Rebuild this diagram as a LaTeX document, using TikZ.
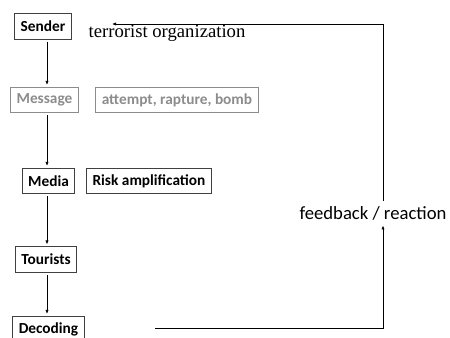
\documentclass[tikz,border=0pt]{standalone}
\usepackage{fontspec}
\setmainfont{Carlito}
\newfontfamily\serifface{Liberation Serif}
\usetikzlibrary{arrows.meta}
\definecolor{boxline}{HTML}{404040}
\definecolor{fadegray}{HTML}{8C8C8C}
\tikzset{
    stagebox/.style = {draw=boxline, line width=0.6pt, font=\bfseries\fontsize{11.5}{13}\selectfont,
        inner xsep=4.5pt, minimum height=19pt, text=black},
    fadebox/.style = {stagebox, draw=fadegray, text=fadegray},
    flow/.style = {-{Latex[length=3pt,width=2.4pt]}, line width=0.5pt, black,
        shorten <=1.5pt, shorten >=1.5pt},
}
\begin{document}
\begin{tikzpicture}[x=0.75pt, y=-0.75pt]
    \useasboundingbox (0,0) rectangle (450,338);
    % left column
    \node[stagebox] (sender)   at (43,26.5)  {Sender};
    \node[fadebox]  (message)  at (44.5,100) {Message};
    \node[fadebox]  (attempt)  at (177,100)  {attempt, rapture, bomb};
    \node[stagebox] (media)    at (48.5,181) {Media};
    \node[stagebox] (risk)     at (149,181)  {Risk amplification};
    \node[stagebox] (tourists) at (46,259.5) {Tourists};
    \node[stagebox] (decoding) at (48.5,329) {Decoding};
    \node[font=\serifface\fontsize{14}{16}\selectfont, inner sep=0pt] (terror) at (167,33) {terrorist organization};
    \node[font=\fontsize{14}{16}\selectfont, inner sep=1pt] (feedback) at (373,213) {feedback / reaction};
    \coordinate (spine) at (47,0);
    \coordinate (loopstart) at (155,328);
    \coordinate (loopcorner) at (383,328);
    \coordinate (looptop) at (383,24);
    \coordinate (loopend) at (112,24);
    % downward chain
    \draw[flow] (sender.south -| spine) -- (message.north -| spine);
    \draw[flow] (message.south -| spine) -- (media.north -| spine);
    \draw[flow] (media.south -| spine) -- (tourists.north -| spine);
    \draw[flow] (tourists.south -| spine) -- (decoding.north -| spine);
    % feedback loop
    \draw[flow, shorten <=0pt, shorten >=3pt] (loopstart) -- (loopcorner) -- (loopcorner |- feedback.south);
    \draw[flow, shorten <=3pt, shorten >=0pt] (loopcorner |- feedback.north) -- (looptop) -- (loopend);
\end{tikzpicture}
\end{document}
